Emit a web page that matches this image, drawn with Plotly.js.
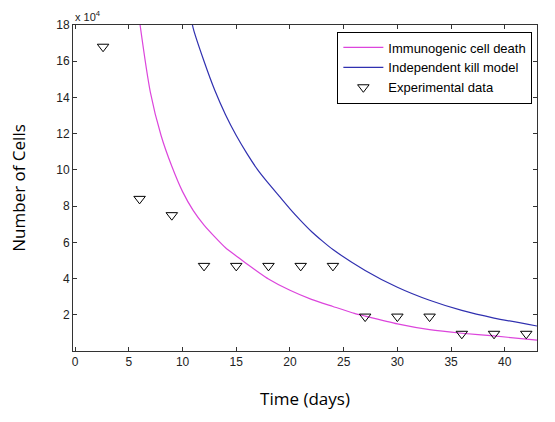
<!DOCTYPE html>
<html>
<head>
<meta charset="utf-8">
<script src="https://cdn.plot.ly/plotly-3.0.1.min.js"></script>
<style>
  html, body { margin: 0; padding: 0; background: #fff; }
  #chart { width: 555px; height: 422px; }
</style>
</head>
<body>
<div id="chart"></div>
<script>
// Model curve: immunogenic cell death (days, cells)
const icdDays  = [5, 6, 7, 8, 9, 10, 11, 12, 13, 14, 15, 16, 17, 18, 20, 22, 24, 26, 27, 30, 33, 36, 39, 43];
const icdCells = [230000, 182000, 143000, 119000, 102000, 88000, 77500, 69500, 63000, 57000, 52500, 48000, 43800, 39800,
                  33500, 28500, 24600, 20800, 19300, 15000, 11800, 9800, 8300, 6000];

// Model curve: independent kill model (days, cells)
const ikmDays  = [10, 11, 12, 13, 14, 15, 16, 17, 18, 19, 20, 21, 22, 23, 24, 27, 30, 33, 36, 39, 43];
const ikmCells = [210000, 178000, 160000, 144000, 130500, 119000, 109000, 100000, 92500, 85500, 78500, 72000, 66000,
                  60800, 56000, 44500, 35200, 28000, 22400, 18200, 13800];

// Experimental measurements
const expDays  = [2.6, 6, 9, 12, 15, 18, 21, 24, 27, 30, 33, 36, 39, 42];
const expCells = [168000, 84000, 75000, 47000, 47000, 47000, 47000, 47000, 19000, 19000, 19000, 9500, 9500, 9500];

// Axis ticks
const xTicks = [0, 5, 10, 15, 20, 25, 30, 35, 40];
const yTicks = [20000, 40000, 60000, 80000, 100000, 120000, 140000, 160000, 180000];
const yTickText = ['2', '4', '6', '8', '10', '12', '14', '16', '18'];

const tickFont = { family: 'Liberation Sans, Arial, sans-serif', size: 12, color: '#222' };
const titleFont = { family: 'Open Sans, sans-serif', size: 17, color: '#000' };

const traces = [
  {
    x: icdDays, y: icdCells, mode: 'lines', name: 'Immunogenic cell death',
    line: { color: '#dc45dc', width: 1.2, shape: 'spline', smoothing: 0.6 }
  },
  {
    x: ikmDays, y: ikmCells, mode: 'lines', name: 'Independent kill model',
    line: { color: '#3030b0', width: 1.2, shape: 'spline', smoothing: 0.6 }
  },
  {
    x: expDays, y: expCells, mode: 'markers', name: 'Experimental data',
    marker: { symbol: 'triangle-down-open', size: 10, color: '#000', line: { width: 1, color: '#000' } }
  }
];

const layout = {
  width: 555, height: 422,
  margin: { l: 73, r: 18, t: 25, b: 71 },
  paper_bgcolor: '#fff', plot_bgcolor: '#fff',
  showlegend: true,
  legend: {
    x: 0.99, y: 0.98, xanchor: 'right', yanchor: 'top',
    bgcolor: '#fff', bordercolor: '#000', borderwidth: 1,
    font: { family: 'Liberation Sans, Arial, sans-serif', size: 13, color: '#000' },
    tracegroupgap: 0, itemwidth: 40
  },
  xaxis: {
    range: [-0.2, 43], tickvals: xTicks, ticks: 'inside', ticklen: 4, tickcolor: '#333',
    showline: true, linecolor: '#333', linewidth: 1, mirror: 'ticks',
    showgrid: false, zeroline: false, tickfont: tickFont,
    title: { text: 'Time (days)', font: titleFont, standoff: 24 }
  },
  yaxis: {
    range: [0, 180000], tickvals: yTicks, ticktext: yTickText, ticks: 'inside', ticklen: 4, tickcolor: '#333',
    showline: true, linecolor: '#333', linewidth: 1, mirror: 'ticks',
    showgrid: false, zeroline: false, tickfont: tickFont,
    title: { text: 'Number of Cells', font: titleFont, standoff: 26 }
  },
  annotations: [
    {
      xref: 'paper', yref: 'paper', x: 0, y: 1, xanchor: 'left', yanchor: 'bottom',
      text: 'x 10<sup>4</sup>', showarrow: false,
      font: { family: 'Liberation Sans, Arial, sans-serif', size: 11, color: '#222' }
    }
  ]
};

Plotly.newPlot('chart', traces, layout, { displayModeBar: false, staticPlot: true });
</script>
</body>
</html>
